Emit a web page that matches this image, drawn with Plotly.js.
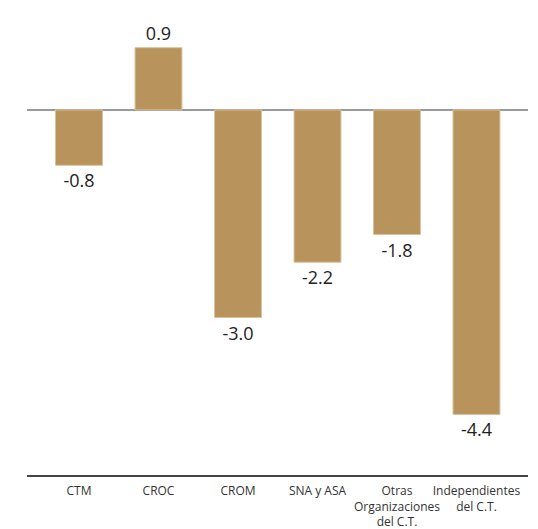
<!DOCTYPE html>
<html>
<head>
<meta charset="utf-8">
<script src="https://cdn.plot.ly/plotly-3.0.1.min.js"></script>
<style>html,body{margin:0;padding:0;background:#fff;}#chart{width:538px;height:529px;}</style>
</head>
<body>
<div id="chart"></div>
<script>
const categories = ["CTM", "CROC", "CROM", "SNA y ASA", "Otras<br>Organizaciones<br>del C.T.", "Independientes<br>del C.T."];
const values = [-0.8, 0.9, -3.0, -2.2, -1.8, -4.4];
const valueLabels = ["-0.8", "0.9", "-3.0", "-2.2", "-1.8", "-4.4"];

const trace = {
  type: "bar",
  x: categories,
  y: values,
  text: valueLabels,
  textposition: "outside",
  cliponaxis: false,
  textfont: {family: "Open Sans, sans-serif", size: 18, color: "#222"},
  marker: {color: "#B8935B", line: {color: "#D8C29E", width: 1}},
  width: 0.59,
  hoverinfo: "none"
};

const layout = {
  width: 538, height: 529,
  margin: {l: 27, r: 10, t: 20, b: 54},
  paper_bgcolor: "#fff", plot_bgcolor: "#fff",
  showlegend: false,
  font: {family: "Open Sans, sans-serif", color: "#333"},
  xaxis: {
    type: "category",
    range: [-0.654, 5.648],
    showgrid: false, zeroline: false,
    showline: true, linecolor: "#444", linewidth: 1.5,
    ticks: "", tickangle: 0, ticklabelstandoff: 4,
    tickfont: {size: 12, color: "#333"},
    fixedrange: true
  },
  yaxis: {
    range: [-5.275, 1.30],
    showgrid: false, showticklabels: false, ticks: "",
    zeroline: true, zerolinecolor: "#9a9a9a", zerolinewidth: 2,
    showline: false, fixedrange: true
  }
};

Plotly.newPlot("chart", [trace], layout, {displayModeBar: false, staticPlot: true});
</script>
</body>
</html>
